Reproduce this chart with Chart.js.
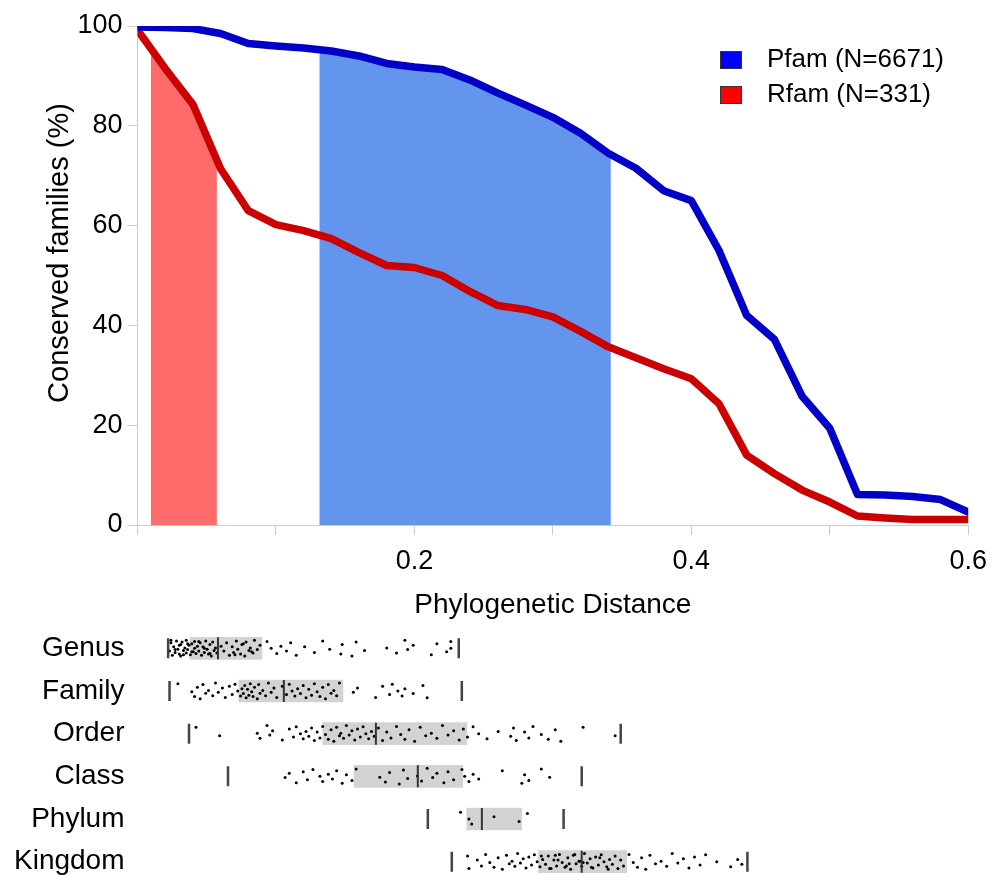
<!DOCTYPE html>
<html>
<head>
<meta charset="utf-8">
<script src="https://cdn.jsdelivr.net/npm/chart.js@4.4.1/dist/chart.umd.min.js"></script>
<style>
  html, body { margin: 0; padding: 0; background: #fff; overflow: hidden; }
  #curve { position: absolute; left: 0; top: 0; }
  #ranks { position: absolute; left: 0; top: 627px; }
</style>
</head>
<body>
<canvas id="curve" width="997" height="627"></canvas>
<canvas id="ranks" width="997" height="256"></canvas>
<script>
// conserved families vs phylogenetic distance
const distance = [0, 0.02, 0.04, 0.06, 0.08, 0.1, 0.12, 0.14, 0.16, 0.18, 0.2, 0.22, 0.24, 0.26, 0.28, 0.3,
                  0.32, 0.34, 0.36, 0.38, 0.4, 0.42, 0.44, 0.46, 0.48, 0.5, 0.52, 0.54, 0.56, 0.58, 0.6];
const pfamConserved = [99.8, 99.7, 99.5, 98.5, 96.5, 96.0, 95.6, 95.0, 94.0, 92.5, 91.8, 91.3, 89.2, 86.6, 84.2, 81.7,
                       78.5, 74.5, 71.5, 67.0, 65.0, 55.0, 42.0, 37.2, 25.8, 19.4, 6.1, 6.0, 5.7, 5.1, 2.6];
const rfamConserved = [99.2, 91.5, 84.3, 71.4, 63.0, 60.2, 59.0, 57.4, 54.6, 52.0, 51.6, 50.0, 46.8, 44.0, 43.2, 41.7,
                       38.8, 35.7, 33.5, 31.3, 29.3, 24.3, 14.0, 10.3, 7.0, 4.6, 1.8, 1.4, 1.1, 1.1, 1.1];
const rfamBand = [0.0097, 0.0573];
const pfamBand = [0.1315, 0.3418];
const legendLabels = ['Pfam (N=6671)', 'Rfam (N=331)'];

const xTickValues = [0, 0.1, 0.2, 0.3, 0.4, 0.5, 0.6];
const xTickLabels = ['', '', '0.2', '', '0.4', '', '0.6'];
const yTickValues = [0, 20, 40, 60, 80, 100];

// taxonomic rank distance distributions
const ranks = ['Genus', 'Family', 'Order', 'Class', 'Phylum', 'Kingdom'];
const whiskerLow = [0.022, 0.023, 0.037, 0.065, 0.2085, 0.2257];
const whiskerHigh = [0.2307, 0.2329, 0.347, 0.319, 0.306, 0.438];
const boxLow = [0.0377, 0.0728, 0.1331, 0.1555, 0.2365, 0.288];
const boxHigh = [0.0893, 0.1475, 0.2365, 0.2336, 0.2759, 0.3513];
const medians = [0.0578, 0.1051, 0.1712, 0.2013, 0.2473, 0.319];

const genusPts = [0.023, 0.024, 0.025, 0.026, 0.027, 0.028, 0.029, 0.030, 0.031, 0.031, 0.032, 0.033, 0.034, 0.035,
  0.035, 0.036, 0.037, 0.038, 0.039, 0.040, 0.041, 0.041, 0.042, 0.043, 0.044, 0.045, 0.046, 0.047, 0.048, 0.049,
  0.050, 0.051, 0.052, 0.053, 0.054, 0.055, 0.056, 0.057, 0.024, 0.027, 0.030, 0.033, 0.036, 0.039, 0.044, 0.048,
  0.052, 0.060, 0.062, 0.064, 0.066, 0.068, 0.069, 0.071, 0.072, 0.074, 0.075, 0.077, 0.078, 0.080, 0.081, 0.083,
  0.084, 0.086, 0.088, 0.070, 0.076, 0.082, 0.093, 0.096, 0.100, 0.103, 0.107, 0.110, 0.114, 0.120, 0.127, 0.133,
  0.138, 0.146, 0.147, 0.154, 0.157, 0.163, 0.179, 0.186, 0.192, 0.194, 0.198, 0.211, 0.215, 0.222, 0.225, 0.225];
const familyPts = [0.029, 0.039, 0.041, 0.043, 0.045, 0.047, 0.049, 0.051, 0.054, 0.056, 0.058, 0.061, 0.063, 0.066,
  0.068, 0.070, 0.072, 0.074, 0.075, 0.076, 0.077, 0.078, 0.079, 0.080, 0.081, 0.082, 0.083, 0.084, 0.086, 0.087,
  0.088, 0.090, 0.092, 0.094, 0.096, 0.098, 0.100, 0.104, 0.107, 0.109, 0.111, 0.113, 0.115, 0.117, 0.119, 0.121,
  0.123, 0.125, 0.127, 0.129, 0.131, 0.133, 0.135, 0.137, 0.139, 0.141, 0.143, 0.145, 0.155, 0.158, 0.171, 0.176,
  0.181, 0.183, 0.187, 0.190, 0.192, 0.198, 0.205, 0.208];
const orderPts = [0.042, 0.059, 0.086, 0.088, 0.093, 0.095, 0.097, 0.104, 0.109, 0.112, 0.114, 0.117, 0.119, 0.121,
  0.123, 0.125, 0.127, 0.129, 0.131, 0.133, 0.135, 0.137, 0.139, 0.141, 0.143, 0.145, 0.146, 0.148, 0.150, 0.152,
  0.154, 0.156, 0.158, 0.160, 0.162, 0.164, 0.166, 0.168, 0.170, 0.173, 0.176, 0.179, 0.182, 0.186, 0.189, 0.192,
  0.195, 0.199, 0.203, 0.207, 0.211, 0.215, 0.219, 0.223, 0.227, 0.231, 0.234, 0.237, 0.241, 0.245, 0.251, 0.259,
  0.268, 0.270, 0.272, 0.278, 0.281, 0.284, 0.290, 0.295, 0.300, 0.304, 0.320, 0.343];
const classPts = [0.106, 0.109, 0.114, 0.119, 0.122, 0.126, 0.131, 0.133, 0.137, 0.140, 0.143, 0.147, 0.150, 0.154,
  0.157, 0.174, 0.178, 0.181, 0.188, 0.191, 0.194, 0.201, 0.204, 0.208, 0.212, 0.215, 0.220, 0.223, 0.227, 0.233,
  0.235, 0.238, 0.241, 0.245, 0.262, 0.276, 0.278, 0.281, 0.290, 0.296];
const phylumPts = [0.232, 0.238, 0.240, 0.256, 0.274, 0.280];
const kingdomPts = [0.237, 0.238, 0.244, 0.247, 0.250, 0.253, 0.256, 0.259, 0.262, 0.265, 0.267, 0.269, 0.271, 0.273,
  0.275, 0.277, 0.279, 0.281, 0.283, 0.285, 0.287, 0.289, 0.291, 0.293, 0.295, 0.297, 0.299, 0.301, 0.303, 0.305,
  0.307, 0.309, 0.311, 0.313, 0.315, 0.317, 0.319, 0.321, 0.323, 0.325, 0.327, 0.329, 0.331, 0.333, 0.335, 0.337,
  0.339, 0.341, 0.343, 0.345, 0.347, 0.349, 0.353, 0.356, 0.359, 0.362, 0.365, 0.368, 0.372, 0.376, 0.380, 0.384,
  0.388, 0.392, 0.396, 0.400, 0.404, 0.408, 0.416, 0.426, 0.431, 0.434, 0.290, 0.296, 0.302, 0.308, 0.314, 0.320,
  0.326, 0.332, 0.338, 0.300, 0.310, 0.318];
const rankPoints = [genusPts, familyPts, orderPts, classPts, phylumPts, kingdomPts];
// vertical spread of the dots inside a row (in row units)
const jitter = [0.06, -0.13, 0.16, -0.04, 0.1, -0.17, 0.02, 0.13, -0.09, 0.18, -0.15, 0.05,
                -0.01, 0.11, -0.19, 0.03, -0.07, 0.15, -0.11, 0.08, -0.16, 0.0, 0.12, -0.05];

const FONT = '"Liberation Sans", Arial, Helvetica, sans-serif';
Chart.defaults.font.family = FONT;
Chart.defaults.color = '#000';

function toPoints(xs, ys) {
  return xs.map((x, i) => ({ x: x, y: ys[i] }));
}

// shaded area under a curve, only between the band limits
const bandFill = {
  id: 'bandFill',
  beforeDatasetsDraw(chart) {
    const ctx = chart.ctx, area = chart.chartArea, x = chart.scales.x;
    chart.data.datasets.forEach((ds, i) => {
      if (!ds.band) return;
      const pts = chart.getDatasetMeta(i).data;
      const left = x.getPixelForValue(ds.band[0]);
      const right = x.getPixelForValue(ds.band[1]);
      ctx.save();
      ctx.beginPath();
      ctx.rect(left, area.top, right - left, area.bottom - area.top);
      ctx.clip();
      ctx.beginPath();
      ctx.moveTo(pts[0].x, area.bottom);
      pts.forEach(p => ctx.lineTo(p.x, p.y));
      ctx.lineTo(pts[pts.length - 1].x, area.bottom);
      ctx.closePath();
      ctx.fillStyle = ds.bandColor;
      ctx.fill();
      ctx.restore();
    });
  }
};

// legend boxes + rotated y title
const curveDecor = {
  id: 'curveDecor',
  afterDraw(chart) {
    const ctx = chart.ctx;
    const boxColors = ['#0000ff', '#ff0000'];
    ctx.save();
    ctx.font = '26px ' + FONT;
    ctx.textBaseline = 'middle';
    legendLabels.forEach((label, i) => {
      const y = 51 + i * 35;
      ctx.fillStyle = boxColors[i];
      ctx.fillRect(720, y, 21, 17);
      ctx.strokeStyle = '#333';
      ctx.lineWidth = 1;
      ctx.strokeRect(720.5, y + 0.5, 21, 17);
      ctx.fillStyle = '#000';
      ctx.fillText(label, 767, y + 9);
    });
    ctx.translate(60, 253);
    ctx.rotate(-Math.PI / 2);
    ctx.textAlign = 'center';
    ctx.font = '29px ' + FONT;
    ctx.fillText('Conserved families (%)', 0, 0);
    ctx.restore();
  }
};

function renderCurves() {
  new Chart(document.getElementById('curve'), {
    type: 'line',
    data: {
      datasets: [
        { label: legendLabels[1], data: toPoints(distance, rfamConserved), band: rfamBand, bandColor: '#ff6b6b',
          borderColor: '#cc0000', borderWidth: 7.5, fill: false, pointRadius: 0, order: 2 },
        { label: legendLabels[0], data: toPoints(distance, pfamConserved), band: pfamBand, bandColor: '#6495ed',
          borderColor: '#0000c8', borderWidth: 7.5, fill: false, pointRadius: 0, order: 1 }
      ]
    },
    options: {
      responsive: false,
      animation: false,
      events: [],
      layout: { padding: { top: 26, right: 24, left: 0, bottom: 0 } },
      elements: { line: { tension: 0, borderJoinStyle: 'round', borderCapStyle: 'round' } },
      plugins: { legend: { display: false }, tooltip: { enabled: false } },
      scales: {
        x: {
          type: 'linear', min: 0, max: 0.6,
          afterFit: (s) => { s.height = 102; },
          afterBuildTicks: (s) => { s.ticks = xTickValues.map(v => ({ value: v })); },
          ticks: { autoSkip: false, maxRotation: 0, padding: 10, font: { size: 27 },
                   callback: (v, i) => xTickLabels[i] },
          grid: { drawOnChartArea: false, color: '#cccccc', tickLength: 10 },
          border: { color: '#cccccc' },
          title: { display: true, text: 'Phylogenetic Distance', font: { size: 28 }, padding: { top: 0, bottom: 5 } }
        },
        y: {
          min: 0, max: 100,
          afterFit: (s) => { s.width = 137.5; },
          afterBuildTicks: (s) => { s.ticks = yTickValues.map(v => ({ value: v })); },
          ticks: { padding: 5, font: { size: 27 } },
          grid: { drawOnChartArea: false, color: '#cccccc', tickLength: 10 },
          border: { color: '#cccccc' }
        }
      }
    },
    plugins: [bandFill, curveDecor]
  });
}

function renderRanks() {
  const dots = [];
  rankPoints.forEach((pts, r) => {
    pts.forEach((v, k) => dots.push({ x: v, y: r + jitter[(k + r * 5) % jitter.length] }));
  });
  const whiskers = whiskerLow.map((v, i) => ({ x: v, y: i }))
    .concat(whiskerHigh.map((v, i) => ({ x: v, y: i })));

  new Chart(document.getElementById('ranks'), {
    type: 'scatter',
    data: {
      datasets: [
        { type: 'bar', indexAxis: 'y', data: boxLow.map((lo, i) => ({ x: [lo, boxHigh[i]], y: i })),
          backgroundColor: '#d3d3d3', borderWidth: 0, barThickness: 22, order: 3 },
        { data: dots, pointRadius: 1.5, backgroundColor: '#000', borderWidth: 0, order: 2 },
        { data: whiskers, pointStyle: 'line', rotation: 90, pointRadius: 10,
          borderColor: '#444', borderWidth: 2.5, order: 1 },
        { data: medians.map((v, i) => ({ x: v, y: i })), pointStyle: 'line', rotation: 90, pointRadius: 11,
          borderColor: '#333', borderWidth: 2, order: 1 }
      ]
    },
    options: {
      responsive: false,
      animation: false,
      events: [],
      layout: { autoPadding: false, padding: { top: 0, right: 24, left: 0, bottom: 0 } },
      plugins: { legend: { display: false }, tooltip: { enabled: false } },
      scales: {
        x: { type: 'linear', min: 0, max: 0.6, display: false },
        y: {
          type: 'linear', min: -0.5, max: 5.5, reverse: true, offset: false,
          afterFit: (s) => { s.width = 137.5; s.paddingTop = 0; s.paddingBottom = 0; },
          afterBuildTicks: (s) => { s.ticks = ranks.map((_, i) => ({ value: i })); },
          ticks: { padding: 13, font: { size: 28 }, callback: (v) => ranks[v] },
          grid: { display: false, drawTicks: false },
          border: { display: false }
        }
      }
    }
  });
}

renderCurves();
renderRanks();
</script>
</body>
</html>
